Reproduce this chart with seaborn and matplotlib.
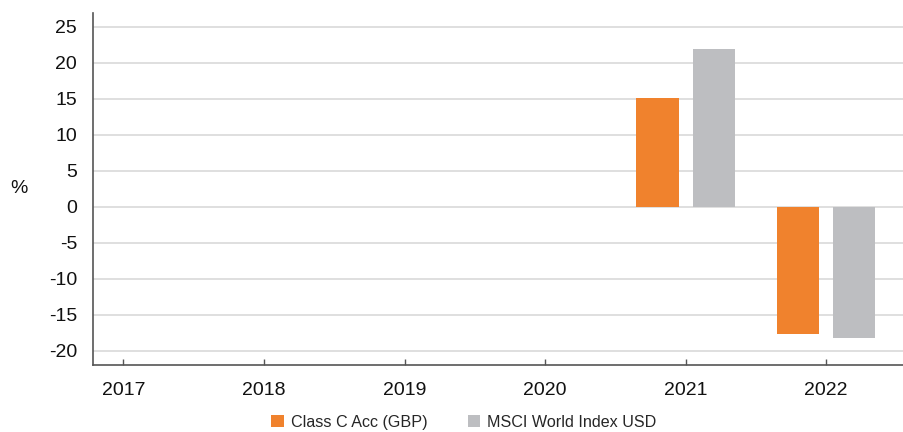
import matplotlib
matplotlib.use("Agg")
import matplotlib.pyplot as plt
import seaborn as sns
import pandas as pd
import numpy as np
from matplotlib.patches import Patch

years = ["2017", "2018", "2019", "2020", "2021", "2022"]
series_names = ["Class C Acc (GBP)", "MSCI World Index USD"]
fund_values = [np.nan, np.nan, np.nan, np.nan, 15.1, -17.7]
index_values = [np.nan, np.nan, np.nan, np.nan, 21.9, -18.2]
colors = ["#F0822D", "#BDBEC1"]

df = pd.DataFrame({
    "year": years * 2,
    "series": [series_names[0]] * len(years) + [series_names[1]] * len(years),
    "value": fund_values + index_values,
})

sns.set_theme(style="white")
plt.rcParams["font.family"] = ["Liberation Sans", "DejaVu Sans"]

fig = plt.figure(figsize=(9.04, 4.32), dpi=100)
ax = fig.add_axes([0.103, 0.156, 0.897, 0.814])

sns.barplot(data=df, x="year", y="value", hue="series", order=years,
            hue_order=series_names, palette=colors, width=0.8, gap=0.25,
            saturation=1, ax=ax, legend=False, zorder=3, linewidth=0,
            edgecolor="none")

ax.set_ylim(-21.9, 26.9)
ax.set_xlim(-0.216, 5.554)
ax.set_yticks(range(-20, 26, 5))
ax.set_yticklabels([str(v) for v in range(-20, 26, 5)], fontsize=14, color="#111111")
ax.set_xticks(range(len(years)))
ax.set_xticklabels(years, fontsize=14, color="#111111")
ax.yaxis.grid(True, color="#dcdcdc", linewidth=1.3, zorder=0)
ax.xaxis.grid(False)
ax.set_axisbelow(True)

for s in ["top", "right"]:
    ax.spines[s].set_visible(False)
for s in ["left", "bottom"]:
    ax.spines[s].set_visible(True)
    ax.spines[s].set_color("#555555")
    ax.spines[s].set_linewidth(1.2)

ax.tick_params(axis="x", direction="in", length=4, width=1, color="#555555", pad=12.5, bottom=True)
ax.tick_params(axis="y", length=0, pad=11.5)

ax.set_xlabel("")
ax.set_ylabel("")
ax.text(-0.091, 0.502, "%", transform=ax.transAxes, fontsize=14, color="#111111",
        ha="center", va="center")

handles = [Patch(facecolor=c, edgecolor="none") for c in colors]
fig.legend(handles, series_names, loc="lower center", bbox_to_anchor=(0.513, -0.028),
           ncol=2, frameon=False, fontsize=11.6, handlelength=0.8, handleheight=0.8,
           handletextpad=0.4, columnspacing=2.5)

fig.savefig("out.png", dpi=100)
